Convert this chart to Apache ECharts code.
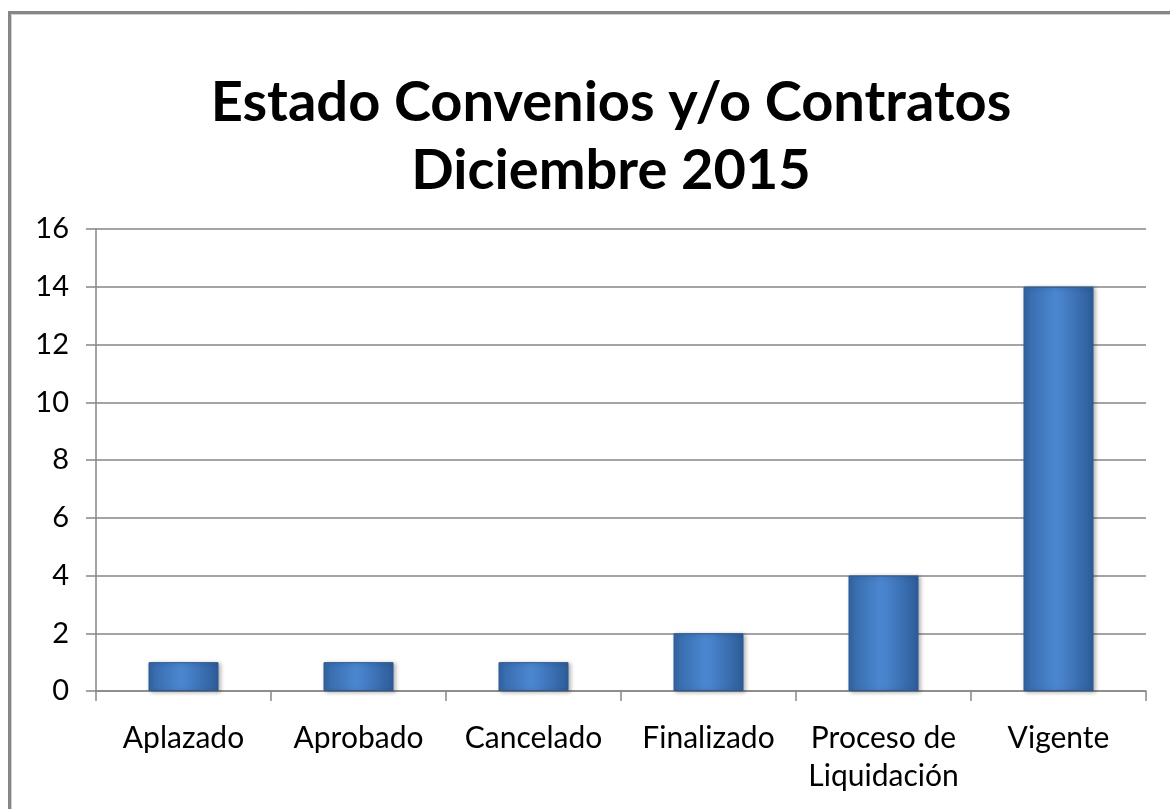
<!DOCTYPE html>
<html>
<head>
<meta charset="utf-8">
<title>Estado Convenios y/o Contratos</title>
<script src="https://cdn.jsdelivr.net/npm/echarts@6/dist/echarts.min.js"></script>
<style>
  html, body { margin: 0; padding: 0; background: #fff; }
  #main { width: 1170px; height: 809px; }
</style>
</head>
<body>
<div id="main"></div>
<script>
// datos del grafico
var categorias = ['Aplazado', 'Aprobado', 'Cancelado', 'Finalizado', 'Proceso de\nLiquidación', 'Vigente'];
var cantidades = [1, 1, 1, 2, 4, 14];
var tituloTxt = 'Estado Convenios y/o Contratos\nDiciembre 2015';

var fuente = 'Lato, "Open Sans", sans-serif';
var gris = '#868686';

var chart = echarts.init(document.getElementById('main'));

//degradado horizontal tipo Excel
var colorBarra = new echarts.graphic.LinearGradient(0, 0, 1, 0, [
  { offset: 0, color: '#3568a8' },
  { offset: 0.45, color: '#4a86cf' },
  { offset: 0.55, color: '#4882cb' },
  { offset: 1, color: '#2d5c98' }
]);

chart.setOption({
  backgroundColor: '#ffffff',
  animation: false,
  title: {
    text: tituloTxt,
    left: 606,
    textAlign: 'center',
    top: 64,
    textStyle: {
      fontFamily: fuente,
      fontSize: 56,
      fontWeight: 'bold',
      color: '#000',
      lineHeight: 68
    }
  },
  grid: { left: 96, right: 24, top: 229, bottom: 118 },
  xAxis: {
    type: 'category',
    data: categorias,
    axisLine: { lineStyle: { color: gris, width: 1.5 } },
    axisTick: { show: true, length: 10, lineStyle: { color: gris, width: 1.5 } },
    axisLabel: {
      fontFamily: fuente,
      fontSize: 30,
      color: '#000',
      margin: 28,
      lineHeight: 38,
      interval: 0
    }
  },
  yAxis: {
    type: 'value',
    min: 0,
    max: 16,
    interval: 2,
    axisLine: { show: true, lineStyle: { color: gris, width: 1.5 } },
    axisTick: { show: true, length: 10, lineStyle: { color: gris, width: 1.5 } },
    splitLine: { lineStyle: { color: gris, width: 1.5 } },
    axisLabel: {
      fontFamily: fuente,
      fontSize: 29,
      color: '#000',
      margin: 27
    }
  },
  series: [{
    type: 'bar',
    data: cantidades,
    barWidth: '40%',
    itemStyle: {
      color: colorBarra,
      borderColor: '#2b5a94',
      borderWidth: 1,
      shadowColor: 'rgba(0,0,0,0.3)',
      shadowBlur: 4,
      shadowOffsetX: 2,
      shadowOffsetY: 1
    }
  }],
  graphic: [
    { type: 'rect', shape: { x: 9.5, y: 12.5, width: 1200, height: 900 }, style: { fill: 'none', stroke: gris, lineWidth: 3 }, silent: true },
    { type: 'rect', shape: { x: 11.5, y: 14.5, width: 1200, height: 900 }, style: { fill: 'none', stroke: '#d0d0d0', lineWidth: 1 }, silent: true }
  ]
});
</script>
</body>
</html>
